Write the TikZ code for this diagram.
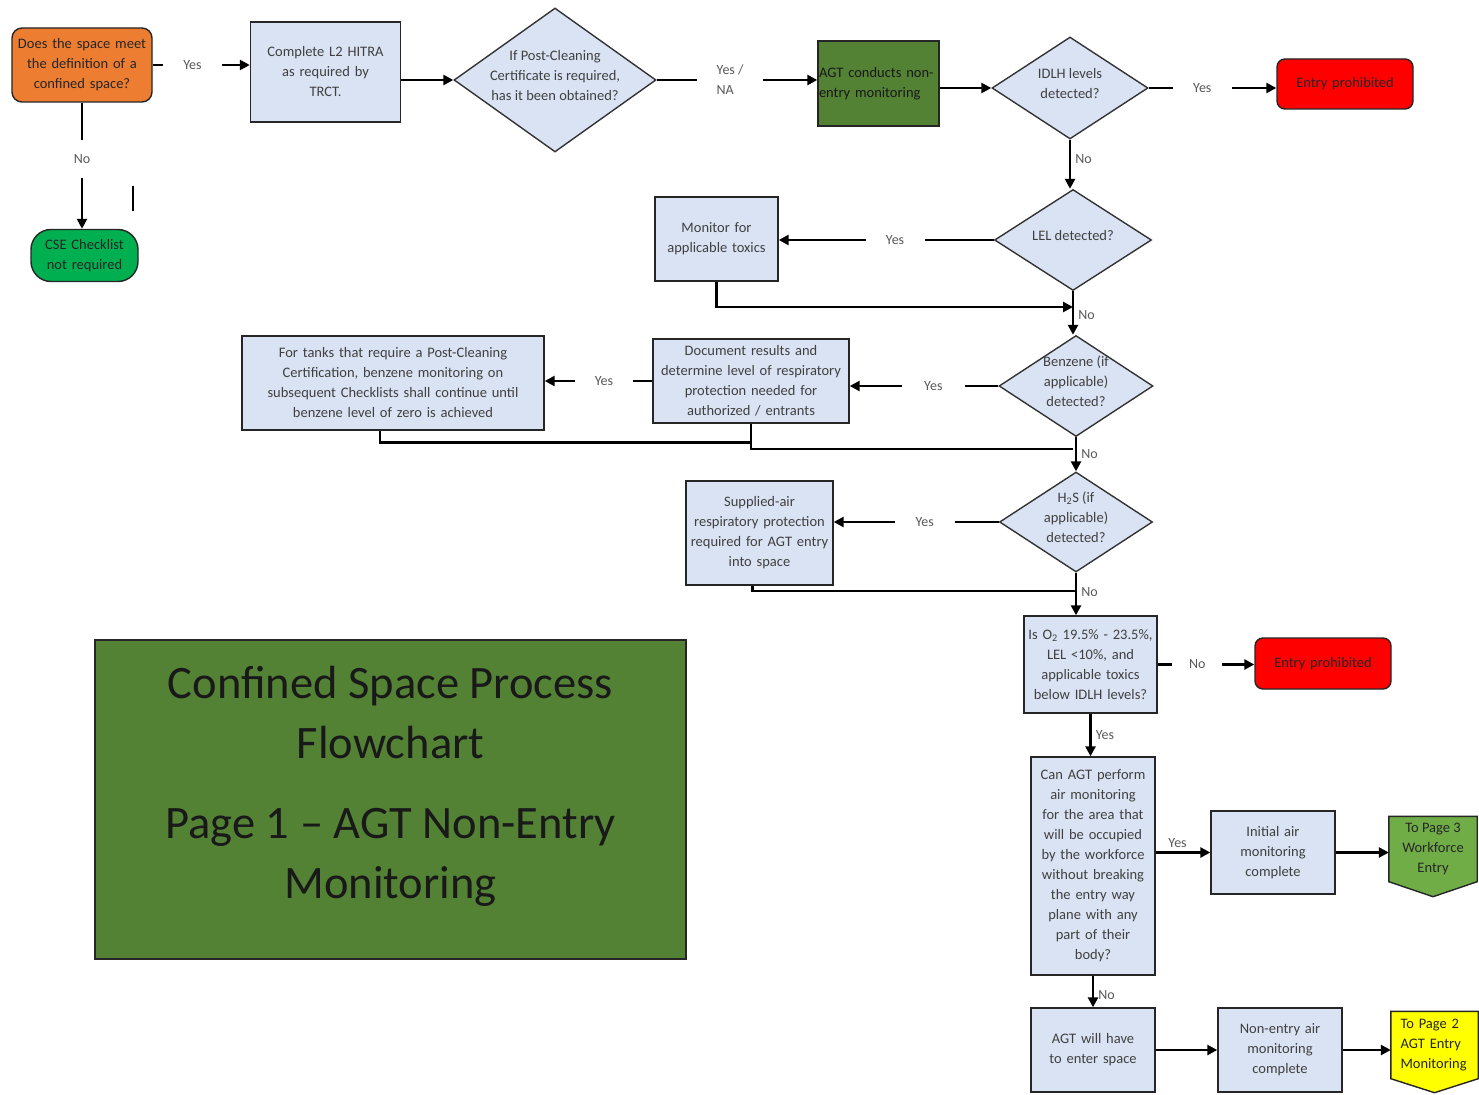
\documentclass[tikz,border=0pt]{standalone}
\usepackage{fontspec}
\setmainfont{Carlito}
\usetikzlibrary{shapes.geometric,arrows.meta,calc,backgrounds}
\definecolor{boxblue}{HTML}{DAE3F3}
\definecolor{orangebox}{HTML}{ED7D31}
\definecolor{darkgreen}{HTML}{548235}
\definecolor{lightgreen}{HTML}{70AD47}
\definecolor{csegreen}{HTML}{00B050}
\definecolor{redbox}{HTML}{FF0000}
\definecolor{yellowbox}{HTML}{FFFF00}
\definecolor{txtgray}{HTML}{404040}
\definecolor{lblgray}{HTML}{595959}
\newcommand\dtxt[1]{\smash{\makebox[0pt]{\begin{tabular}{@{}c@{}}#1\end{tabular}}}}
\begin{document}
\begin{tikzpicture}[x=1pt,y=-1pt,
  base/.style={font=\fontsize{14.5}{20}\selectfont, align=center, inner sep=0pt},
  box/.style={base, rectangle, draw=black!85, line width=1.4pt, fill=boxblue, text=txtgray},
  dia/.style={diamond, draw=black!80, line width=1.4pt, fill=boxblue, inner sep=0pt, text=txtgray, font=\fontsize{14.5}{20}\selectfont},
  conn/.style={line width=2.6pt, draw=black, -{Triangle[length=10pt,width=10pt]}},
  plain/.style={line width=2.6pt, draw=black},
  lbl/.style={font=\fontsize{14}{20}\selectfont, text=lblgray, fill=white, inner sep=0pt, align=left},
  nolbl/.style={font=\fontsize{14}{20}\selectfont, text=lblgray, inner sep=4pt},
]
\useasboundingbox (0,0) rectangle (1479,1094);
\begin{scope}[on background layer]
\fill[white] (0,0) rectangle (1479,1094);
\end{scope}

% nodes
\node[box, fill=orangebox, text=black!85, rounded corners=10pt, minimum width=140pt, minimum height=74pt, text width=136pt] (a) at (82,65) {Does the space meet\\the definition of a\\confined space?};
\node[box, minimum width=150pt, minimum height=100pt, text width=140pt] (b) at (325.5,72) {Complete L2 HITRA\\as required by\\TRCT.};
\node[dia, minimum width=202pt, minimum height=144pt] (d1) at (555,80) {\dtxt{If Post-Cleaning\\Certificate is required,\\has it been obtained?}};
\node[box, fill=darkgreen, text=black!90, minimum width=121pt, minimum height=85pt, text width=119pt, align=left] (g) at (878.5,83.5) {AGT conducts non-\\entry monitoring};
\node[box, fill=redbox, text=black!85, rounded corners=8pt, minimum width=136pt, minimum height=50pt, text width=130pt] (r1) at (1345,84) {Entry prohibited};
\node[dia, minimum width=156pt, minimum height=102pt] (d2) at (1070,88) {\dtxt{IDLH levels\\detected?}};
\node[dia, minimum width=157pt, minimum height=101pt] (d3) at (1073,240) {\dtxt{LEL detected?}};
\node[box, minimum width=123pt, minimum height=84pt, text width=120pt] (m) at (716.5,239) {Monitor for\\applicable toxics};
\node[dia, minimum width=154pt, minimum height=101pt] (d4) at (1076,386) {\dtxt{Benzene (if\\applicable)\\detected?}};
\node[box, minimum width=196pt, minimum height=84pt, text width=192pt] (doc) at (751,381) {Document results and\\determine level of respiratory\\protection needed for\\authorized / entrants};
\node[box, minimum width=302pt, minimum height=94pt, text width=296pt] (t) at (393,383) {For tanks that require a Post-Cleaning\\Certification, benzene monitoring on\\subsequent Checklists shall continue until\\benzene level of zero is achieved};
\node[dia, minimum width=153pt, minimum height=100pt] (d5) at (1076,522) {\dtxt{H\textsubscript{2}S (if\\applicable)\\detected?}};
\node[box, minimum width=147pt, minimum height=104pt, text width=144pt] (sa) at (759.5,533) {Supplied-air\\respiratory protection\\required for AGT entry\\into space};
\node[box, minimum width=133pt, minimum height=97pt, text width=130pt] (o2) at (1090.5,664.5) {Is O\textsubscript{2} 19.5\% - 23.5\%,\\LEL <10\%, and\\applicable toxics\\below IDLH levels?};
\node[box, fill=redbox, text=black!85, rounded corners=8pt, minimum width=136pt, minimum height=51pt, text width=130pt] (r2) at (1323,663.5) {Entry prohibited};
\node[box, minimum width=124pt, minimum height=218pt, text width=120pt] (can) at (1093,866) {Can AGT perform\\air monitoring\\for the area that\\will be occupied\\by the workforce\\without breaking\\the entry way\\plane with any\\part of their\\body?};
\node[box, minimum width=124pt, minimum height=83pt, text width=120pt] (init) at (1273,852.5) {Initial air\\monitoring\\complete};
\node[base, text=black!85, minimum width=88pt, minimum height=65pt] (p3) at (1433,849) {To Page 3\\Workforce\\Entry};
\node[box, minimum width=124pt, minimum height=84pt, text width=120pt] (agtw) at (1093,1050) {AGT will have\\to enter space};
\node[box, minimum width=124pt, minimum height=84pt, text width=120pt] (ne) at (1280,1050) {Non-entry air\\monitoring\\complete};
\node[base, text=black!85, minimum width=87pt, minimum height=67pt, text width=68pt, align=left] (p2) at (1434.5,1045) {To Page 2\\AGT Entry\\Monitoring};
\node[box, fill=csegreen, text=black!85, rounded corners=20pt, minimum width=107pt, minimum height=52pt, text width=104pt] (cse) at (84.5,255.5) {CSE Checklist\\not required};
\node[draw=black!85, line width=1.4pt, fill=darkgreen, minimum width=591pt, minimum height=319pt, inner sep=0pt] (title) at (390.5,799.5) {};
\node[font=\fontsize{46.5}{60}\selectfont, align=center, text=black!90, inner sep=0pt] (titletext) at ([yshift=13pt]title.center) {Confined Space Process\\Flowchart\\[20pt]Page 1 -- AGT Non-Entry\\Monitoring};

\begin{scope}[on background layer]
\filldraw[fill=lightgreen, draw=black!85, line width=1.4pt] (p3.north west) -- (p3.north east) -- (p3.south east) -- ($(p3.south)+(0,15)$) -- (p3.south west) -- cycle;
\filldraw[fill=yellowbox, draw=black!85, line width=1.4pt] (p2.north west) -- (p2.north east) -- (p2.south east) -- ($(p2.south)+(0,14)$) -- (p2.south west) -- cycle;
\end{scope}

% connectors
\draw[conn] (a.east) -- node[lbl, pos=0.41, minimum width=59pt, minimum height=20pt] {Yes} (a.east -| b.west);
\draw[conn] (a.south) -- node[lbl, pos=0.45, minimum width=30pt, minimum height=38pt, align=center] {No} (a.south |- cse.north);
\draw[conn] (b.east |- d1.west) -- (d1.west);
\draw[conn] (d1.east) -- node[lbl, pos=0.457, minimum width=66pt, minimum height=44pt] {Yes /\\NA} (d1.east -| g.west);
\draw[conn] (g.east |- d2.west) -- (d2.west);
\draw[conn] (d2.east) -- node[lbl, pos=0.42, minimum width=59pt, minimum height=20pt] {Yes} (d2.east -| r1.west);
\draw[conn] (d2.south) -- node[nolbl, right, pos=0.4] {No} (d2.south |- d3.north);
\draw[conn] (d3.west) -- node[lbl, pos=0.459, minimum width=59pt, minimum height=20pt] {Yes} (d3.west -| m.east);
\coordinate (j1) at (1073,307);
\draw[conn] (m.south) |- (j1);
\draw[conn] (d3.south) -- node[nolbl, right, pos=0.55] {No} (d3.south |- d4.north);
\draw[conn] (d4.west) -- node[lbl, pos=0.437, minimum width=63pt, minimum height=20pt] {Yes} (d4.west -| doc.east);
\draw[conn] (doc.west) -- node[lbl, pos=0.45, minimum width=58pt, minimum height=20pt] {Yes} (doc.west -| t.east);
\draw[plain] ([xshift=-13pt]t.south) -- ++(0,12) -| (doc.south);
\coordinate (j2) at (1073,449);
\draw[plain] (doc.south) |- (j2);
\draw[conn] (d4.south) -- node[nolbl, right, pos=0.5] {No} (d4.south |- d5.north);
\draw[conn] (d5.west) -- node[lbl, pos=0.449, minimum width=60pt, minimum height=20pt] {Yes} (d5.west -| sa.east);
\coordinate (j3) at (1076,591);
\draw[plain] ([xshift=-7pt]sa.south) |- (j3);
\draw[conn] (d5.south) -- node[nolbl, right, pos=0.45] {No} (d5.south |- o2.north);
\draw[conn] (o2.east) -- node[lbl, pos=0.41, minimum width=50pt, minimum height=20pt] {No} (o2.east -| r2.west);
\draw[conn] (o2.south) -- node[nolbl, right, pos=0.5] {Yes} (o2.south |- can.north);
\draw[conn] (can.east |- init.west) -- node[nolbl, above, pos=0.4] {Yes} (init.west);
\draw[conn] (init.east) -- (init.east -| p3.west);
\draw[conn] (can.south) -- node[nolbl, right, pos=0.6] {No} (agtw.north);
\draw[conn] (agtw.east) -- (ne.west);
\draw[conn] (ne.east) -- (ne.east -| p2.west);
\draw[line width=1.4pt] (133,186) -- (133,211);
\end{tikzpicture}
\end{document}
